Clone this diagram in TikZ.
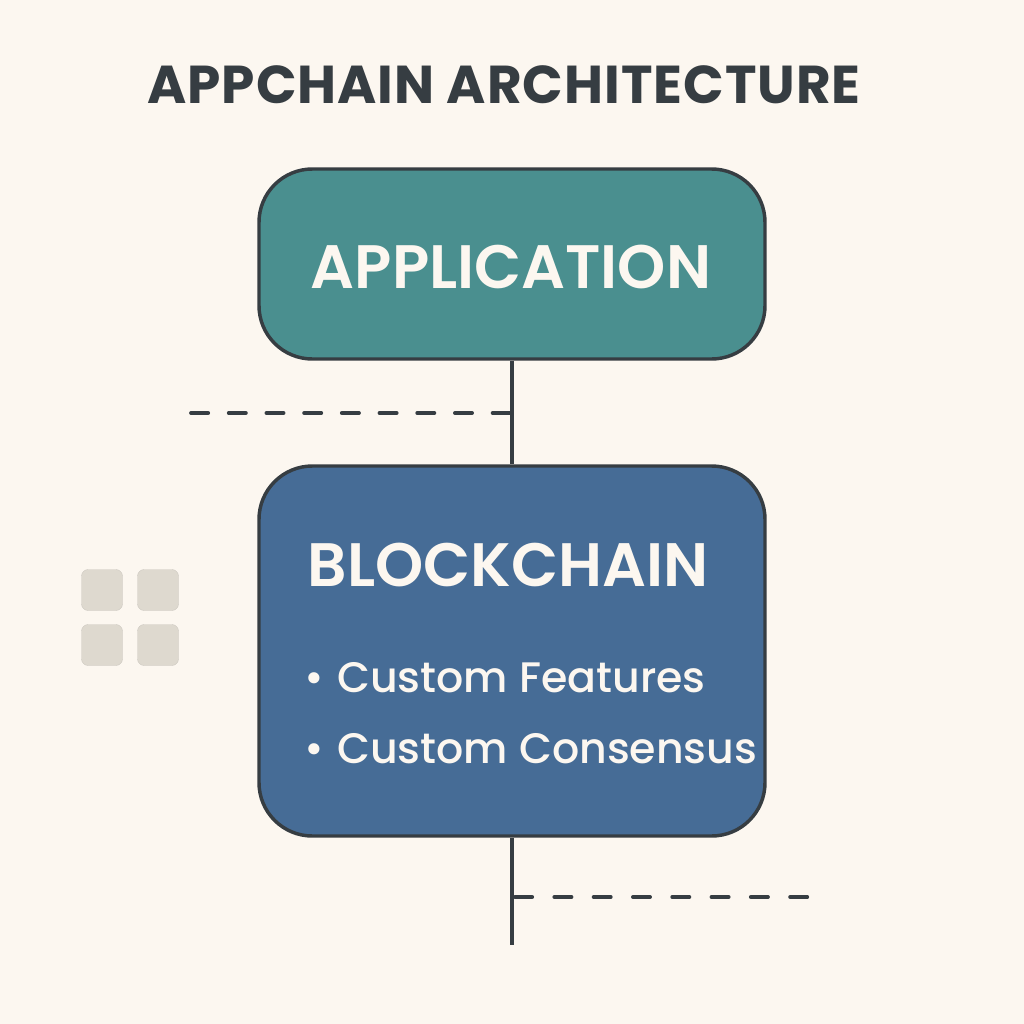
\documentclass[tikz,border=0pt]{standalone}
\usepackage{fontspec}
\setmainfont{Poppins}
\newfontfamily\titlefont[LetterSpace=1.8]{Poppins Bold}
\newfontfamily\headfont{Poppins SemiBold}
\newfontfamily\itemfont{Poppins Medium}
\usetikzlibrary{positioning}
\definecolor{paper}{HTML}{FCF7F0}
\definecolor{ink}{HTML}{363D42}
\definecolor{appteal}{HTML}{4A8F8F}
\definecolor{chainblue}{HTML}{466C96}
\definecolor{tile}{HTML}{DED9CF}
\newdimen\unit
\unit=0.75pt
\tikzset{
  panel/.style = {shape=rectangle, rounded corners=40pt, draw=ink, line width=2.6pt, minimum width=506\unit, inner sep=0pt},
  feature/.style = {text=paper, font=\itemfont\fontsize{32}{32}\selectfont, anchor=west, inner sep=0pt},
  heading/.style = {text=paper, font=\headfont\fontsize{46}{46}\selectfont, inner sep=0pt},
  link/.style = {draw=ink, line width=2.6pt},
  dashlink/.style = {draw=ink, line width=2.8pt, line cap=round, dash pattern=on 17.2\unit off 20.5\unit},
  tilebox/.style = {shape=rectangle, rounded corners=5pt, fill=tile, draw=tile!90!ink, line width=0.3pt, minimum size=41\unit, inner sep=0pt}
}
\begin{document}
\begin{tikzpicture}[x=0.75pt, y=-0.75pt]
  \fill[paper] (0,0) rectangle (1024,1024);
  \useasboundingbox (0,0) rectangle (1024,1024);
  \node[text=ink, font=\titlefont\fontsize{40}{40}\selectfont, inner sep=0pt] (title) at (504,85) {APPCHAIN ARCHITECTURE};
  \node[panel, fill=appteal, minimum height=190\unit] (application) at (512,264) {};
  \node[heading] (applabel) at (511,267) {APPLICATION};
  \node[panel, fill=chainblue, minimum height=370\unit] (blockchain) at (512,651) {};
  \node[heading] (chainlabel) at (508,565) {BLOCKCHAIN};
  \node[feature] (customfeat) at (304,678) {•\hspace{10pt}Custom Features};
  \node[feature] (customcons) at (304,749) {•\hspace{10pt}Custom Consensus};
  \coordinate (upperdash) at (191,413);
  \coordinate (uppermeet) at (512,413);
  \coordinate (lowermeet) at (515,897);
  \coordinate (lowerdash) at (808,897);
  \coordinate (chainend) at (512,945);
  \draw[link] (application) -- (blockchain);
  \draw[link] (blockchain) -- (chainend);
  \draw[dashlink] (upperdash) -- (uppermeet);
  \draw[dashlink, dash pattern=on 17.2\unit off 22.1\unit] (lowermeet) -- (lowerdash);
  \node[tilebox] (tilea) at (102,590) {};
  \node[tilebox] (tileb) at (158,590) {};
  \node[tilebox] (tilec) at (102,645) {};
  \node[tilebox] (tiled) at (158,645) {};
\end{tikzpicture}
\end{document}
